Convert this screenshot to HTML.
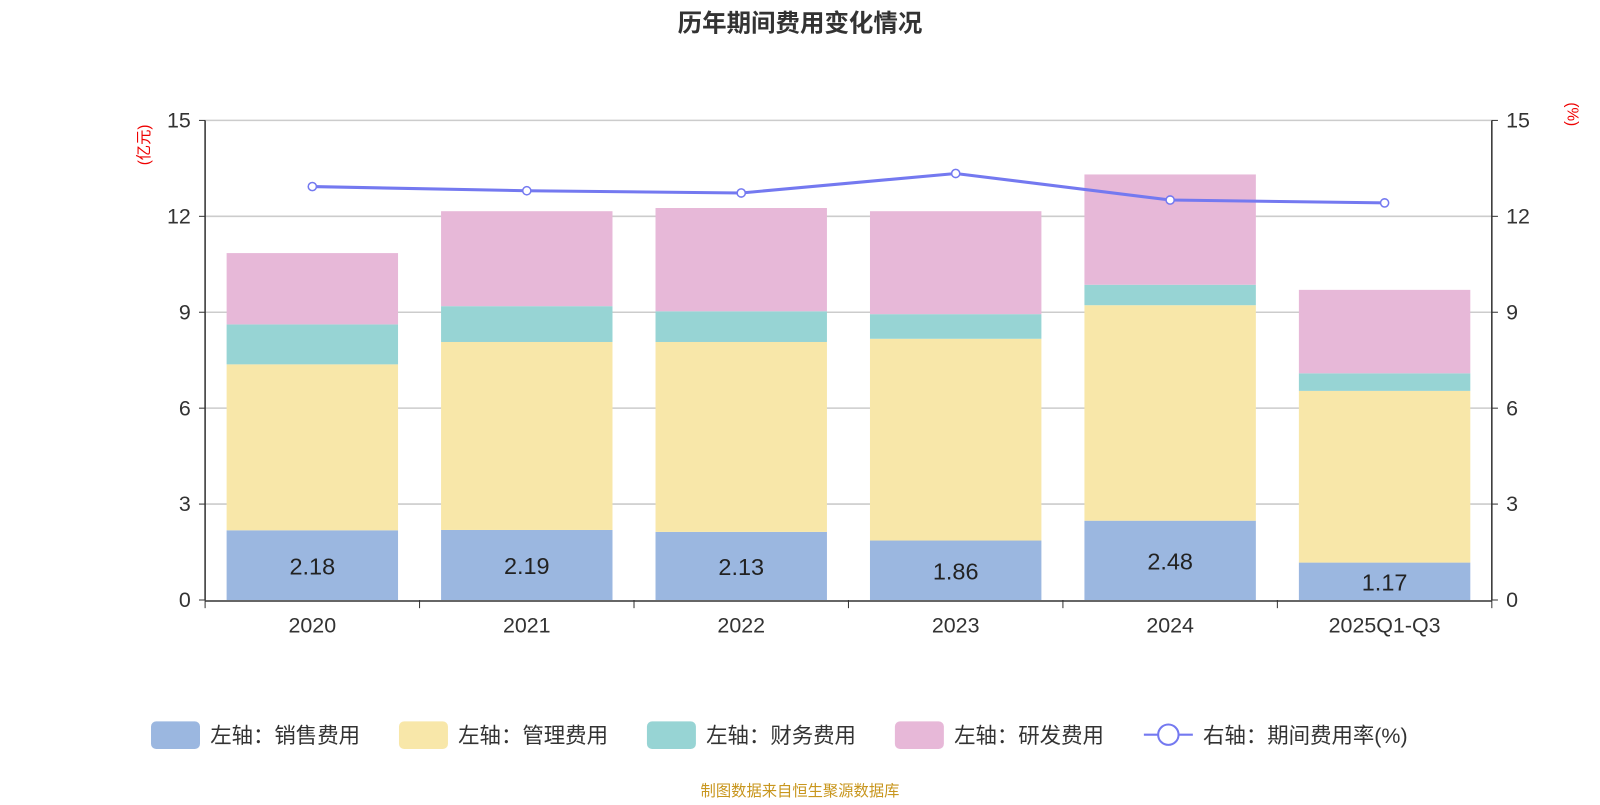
<!DOCTYPE html>
<html><head><meta charset="utf-8">
<style>
body{margin:0;background:#fff;font-family:"Liberation Sans","Noto Sans CJK SC",sans-serif;}
svg text{font-family:"Liberation Sans","Noto Sans CJK SC",sans-serif;}
</style></head>
<body>
<svg id="chart" width="1600" height="800" xmlns="http://www.w3.org/2000/svg">
<g transform="scale(1.0204)">
<text x="784" y="31" text-anchor="middle" font-size="24" font-weight="bold" fill="#333">历年期间费用变化情况</text>
<text x="0" y="0" transform="translate(146,142) rotate(-90)" text-anchor="middle" font-size="15" fill="#e00">(亿元)</text>
<text x="0" y="0" transform="translate(1536,112) rotate(90)" text-anchor="middle" font-size="15" fill="#e00">(%)</text>
<g id="grid"></g><g id="bars"></g><g id="axes"></g><g id="line"></g>
<g id="legend" font-size="21" fill="#333"></g>
<text x="784" y="780" text-anchor="middle" font-size="15" fill="#c8961e">制图数据来自恒生聚源数据库</text>
</g>
</svg>
<script>
const categories=["2020","2021","2022","2023","2024","2025Q1-Q3"];
const sales=[2.18,2.19,2.13,1.86,2.48,1.17];
const mgmt=[5.19,5.88,5.94,6.31,6.74,5.37];
const finance=[1.25,1.12,0.96,0.77,0.64,0.55];
const rnd=[2.23,2.97,3.23,3.22,3.45,2.61];
const rate=[12.93,12.80,12.73,13.34,12.51,12.42];
const ticks=[0,3,6,9,12,15];
const NS="http://www.w3.org/2000/svg";
const X0=201,X1=1462,Y0=588,Y1=118,MAX=15;
const bw=(X1-X0)/categories.length;
const y=v=>Y0-(Y0-Y1)*v/MAX;
const xc=i=>X0+bw*(i+0.5);
function mk(tag,attrs,parent,txt){const e=document.createElementNS(NS,tag);for(const k in attrs)e.setAttribute(k,attrs[k]);if(txt!==undefined)e.textContent=txt;document.getElementById(parent).appendChild(e);return e;}
ticks.forEach(t=>{
  if(t>0){const l=mk('line',{x1:X0,x2:X1,y1:y(t),y2:y(t),stroke:'#ccc','stroke-width':1.5},'grid');
  
  }
  const a=mk('text',{x:X0-14,y:y(t)+7,'text-anchor':'end','font-size':21,fill:'#333'},'axes',t);
  
  
  const b=mk('text',{x:X1+14,y:y(t)+7,'text-anchor':'start','font-size':21,fill:'#333'},'axes',t);
  
  
  mk('line',{x1:X0-6,x2:X0,y1:y(t),y2:y(t),stroke:'#333'},'axes');
  mk('line',{x1:X1,x2:X1+6,y1:y(t),y2:y(t),stroke:'#333'},'axes');
});
mk('line',{x1:X0,x2:X0,y1:Y1,y2:Y0,stroke:'#333','stroke-width':1.5},'axes');
mk('line',{x1:X1,x2:X1,y1:Y1,y2:Y0,stroke:'#333','stroke-width':1.5},'axes');
mk('line',{x1:X0,x2:X1,y1:Y0+1,y2:Y0+1,stroke:'#333','stroke-width':1.5},'axes');
const series=[[sales,'#9bb7e0','bar-sales'],[mgmt,'#f8e7a9','bar-management'],[finance,'#97d4d4','bar-finance'],[rnd,'#e7b8d8','bar-rnd']];
categories.forEach((c,i)=>{
  let acc=0;
  series.forEach(([arr,col,name])=>{
    const r=mk('rect',{x:xc(i)-84,width:168,y:y(acc+arr[i]),height:y(acc)-y(acc+arr[i]),fill:col},'bars');
    
    
    acc+=arr[i];
  });
  const lb=mk('text',{x:xc(i),y:(y(0)+y(sales[i]))/2+9,'text-anchor':'middle','font-size':23,fill:'#222'},'bars',sales[i].toFixed(2));
  
  
  const cl=mk('text',{x:xc(i),y:Y0+32,'text-anchor':'middle','font-size':21,fill:'#333'},'axes',c);
  
  
});
for(let i=0;i<=categories.length;i++)mk('line',{x1:X0+bw*i,x2:X0+bw*i,y1:Y0,y2:Y0+8,stroke:'#333'},'axes');
const pl=mk('polyline',{points:rate.map((v,i)=>xc(i)+','+y(v)).join(' '),fill:'none',stroke:'#7479f0','stroke-width':3},'line');


rate.forEach((v,i)=>{
  const p=mk('circle',{cx:xc(i),cy:y(v),r:4,fill:'#fff',stroke:'#7479f0','stroke-width':1.5},'line');
  
  
});
const leg=[['#9bb7e0','左轴：销售费用',148],['#f8e7a9','左轴：管理费用',391],['#97d4d4','左轴：财务费用',634],['#e7b8d8','左轴：研发费用',877]];
leg.forEach(([c,t,x])=>{
  const r=mk('rect',{x:x,y:707,width:48,height:27,rx:5,fill:c},'legend');
  
  
  const tx=mk('text',{x:x+58,y:728},'legend',t);
  
  
});
mk('line',{x1:1121,x2:1169,y1:720,y2:720,stroke:'#7479f0','stroke-width':2},'legend');
const lc=mk('circle',{cx:1145,cy:720,r:10,fill:'#fff',stroke:'#7479f0','stroke-width':2},'legend');


const lt=mk('text',{x:1179,y:728},'legend','右轴：期间费用率(%)');


</script>
</body></html>
